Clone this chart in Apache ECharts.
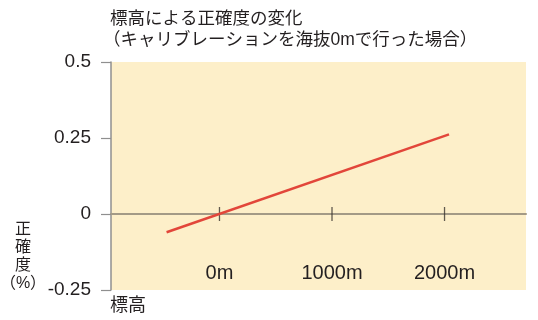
<!DOCTYPE html>
<html>
<head>
<meta charset="utf-8">
<script src="https://cdn.jsdelivr.net/npm/echarts@6/dist/echarts.min.js"></script>
<style>
html,body{margin:0;padding:0;background:#fff;}
#c{width:538px;height:320px;}
</style>
</head>
<body>
<div id="c"></div>
<script>
// Data
var altitudes = [-470, 2040];          // 標高 (m)
var accuracy = [-0.06, 0.262];         // 正確度 (%)
var xTickValues = [0, 1000, 2000];
var yTickInterval = 0.25;
var titleLine1 = '標高による正確度の変化';
var titleLine2 = '（キャリブレーションを海抜0mで行った場合）';
var yName = ['正', '確', '度', '（%）'];
var xName = '標高';

var FONT = '"Liberation Sans", "Noto Sans CJK JP", sans-serif';
var TEXT = '#231f20';

var lineData = altitudes.map(function (a, i) { return [a, accuracy[i]]; });
var tickMarks = xTickValues.map(function (v) { return [v, 0]; });

var chart = echarts.init(document.getElementById('c'), null, {renderer: 'canvas'});
chart.setOption({
  animation: false,
  backgroundColor: '#ffffff',
  textStyle: {fontFamily: FONT},
  title: [{
    text: titleLine1,
    left: 110, top: 9, padding: 0,
    textStyle: {fontSize: 17.5, fontWeight: 'normal', color: TEXT, lineHeight: 21, fontFamily: FONT}
  }, {
    text: titleLine2,
    left: 103, top: 30, padding: 0,
    textStyle: {fontSize: 17.5, fontWeight: 'normal', color: TEXT, lineHeight: 21, fontFamily: FONT}
  }],
  graphic: [
    {type: 'text', x: 23, y: 221,
     style: {text: yName.join('\n'), fill: TEXT, fontSize: 16, lineHeight: 18, align: 'center', fontFamily: FONT}},
    {type: 'text', x: 110, y: 297,
     style: {text: xName, fill: TEXT, fontSize: 18, fontFamily: FONT}}
  ],
  grid: {
    left: 111, right: 12, top: 62, bottom: 30,
    containLabel: false, outerBoundsMode: 'none',
    show: true, backgroundColor: '#FDEFC9', borderWidth: 0
  },
  xAxis: [{
    type: 'value', min: -964, max: 2724, position: 'bottom',
    axisLine: {show: true, onZero: true, lineStyle: {color: '#A39A86', width: 2}},
    axisTick: {show: false},
    axisLabel: {show: false},
    splitLine: {show: false}
  }, {
    type: 'value', min: -964, max: 2724, position: 'bottom',
    axisLine: {show: false, onZero: false},
    axisTick: {show: false},
    axisLabel: {show: true, inside: true, customValues: xTickValues, margin: 7, fontSize: 20, color: TEXT, fontFamily: FONT,
      formatter: function (v) { return v + 'm'; }},
    splitLine: {show: false}
  }],
  yAxis: {
    type: 'value', min: -0.25, max: 0.5, interval: yTickInterval,
    axisLine: {show: true, onZero: false, lineStyle: {color: '#8f8f8f', width: 1.5}},
    axisTick: {show: true, length: 10, lineStyle: {color: '#8f8f8f', width: 1.2}},
    axisLabel: {margin: 20, fontSize: 19, color: TEXT, fontFamily: FONT},
    splitLine: {show: false}
  },
  series: [{
    type: 'line', data: lineData, xAxisIndex: 0,
    showSymbol: false, symbol: 'none',
    lineStyle: {color: '#E2463A', width: 2.5},
    silent: true, z: 3
  }, {
    type: 'scatter', data: tickMarks, xAxisIndex: 0,
    symbol: 'rect', symbolSize: [1.3, 14],
    itemStyle: {color: '#3a3530'},
    silent: true, z: 2
  }]
});
</script>
</body>
</html>
